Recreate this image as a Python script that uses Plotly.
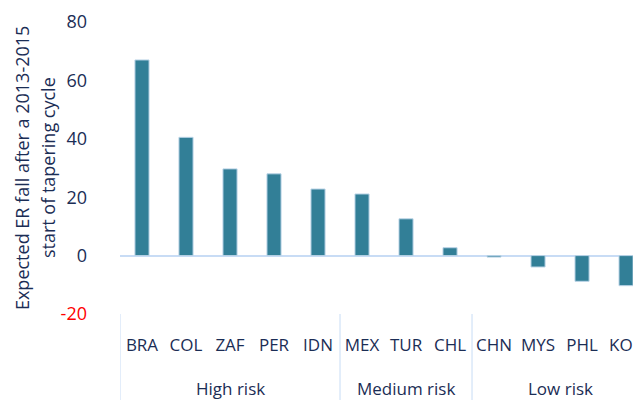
import plotly.graph_objects as go

# Data
countries = ["BRA", "COL", "ZAF", "PER", "IDN", "MEX", "TUR", "CHL", "CHN", "MYS", "PHL", "KOR"]
groups = ["High risk"] * 5 + ["Medium risk"] * 3 + ["Low risk"] * 4
er_fall = [67, 40.5, 29.7, 28, 22.8, 21.1, 12.6, 2.7, -0.5, -3.9, -8.8, -10.3]

y_ticks = [-20, 0, 20, 40, 60, 80]
y_labels = ["<span style='color:#ff0000'>-20</span>", "0", "20", "40", "60", "80"]

navy = "#1b2d55"
teal = "#327f97"
light = "#c8dcf5"

fig = go.Figure()
fig.add_trace(go.Bar(
    x=countries, y=er_fall,
    marker=dict(color=teal, line=dict(color="#b9d3e6", width=1)),
    width=0.32,
))

# page body adds an 8px offset, so the figure is a bit smaller than the window
fig.update_layout(
    width=633, height=392,
    margin=dict(l=112, r=0, t=14, b=86),
    plot_bgcolor="white", paper_bgcolor="white",
    font=dict(family="Open Sans", size=17, color=navy),
    showlegend=False,
)
fig.update_xaxes(
    range=[-0.5, 11.34], automargin=False,
    showgrid=False, showline=False, zeroline=False,
    ticks="", tickangle=0, tickfont=dict(size=17, color=navy),
    ticklabelstandoff=19,
)
fig.update_yaxes(
    range=[-20, 80], tickvals=y_ticks, ticktext=y_labels, automargin=False,
    showgrid=False, showline=False,
    zeroline=True, zerolinecolor=light, zerolinewidth=2,
    ticks="", tickfont=dict(size=18, color=navy),
    ticklabelstandoff=32,
)

# group labels and dividers under the category labels
start = 0
for i in range(1, len(groups) + 1):
    if i == len(groups) or groups[i] != groups[start]:
        fig.add_annotation(text=groups[start], xref="x", yref="paper",
                           x=(start + i - 1) / 2, y=-0.255, yanchor="middle",
                           showarrow=False, font=dict(size=17, color=navy))
        fig.add_shape(type="line", xref="x", yref="paper",
                      x0=start - 0.5, x1=start - 0.5, y0=0, y1=-0.3,
                      line=dict(color=light, width=1))
        start = i

# two-line rotated y-axis title
fig.add_annotation(text="Expected ER fall after a 2013-2015", textangle=-90,
                   xref="paper", yref="paper", x=-0.188, y=0.5, xanchor="center", yanchor="middle",
                   showarrow=False, font=dict(size=18, color=navy))
fig.add_annotation(text="start of tapering cycle", textangle=-90,
                   xref="paper", yref="paper", x=-0.138, y=0.5, xanchor="center", yanchor="middle",
                   showarrow=False, font=dict(size=18, color=navy))

fig.write_html("out.html")
